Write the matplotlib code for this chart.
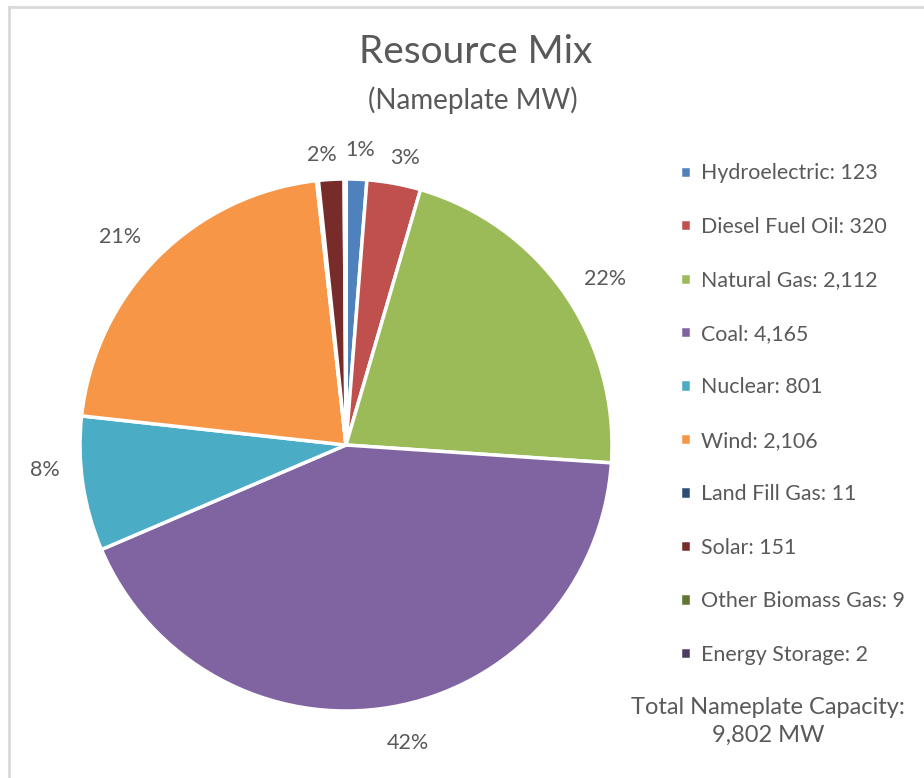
import numpy as np
import matplotlib.pyplot as plt
from matplotlib.lines import Line2D

# Resource mix data (Nameplate MW)
sources = ["Hydroelectric", "Diesel Fuel Oil", "Natural Gas", "Coal", "Nuclear",
           "Wind", "Land Fill Gas", "Solar", "Other Biomass Gas", "Energy Storage"]
capacity = [123, 320, 2112, 4165, 801, 2106, 11, 151, 9, 2]
colors = ["#4F81BD", "#C0504D", "#9BBB59", "#8064A2", "#4BACC6",
          "#F79646", "#2C4D75", "#772C2A", "#5F7530", "#4D3B62"]
total_label = "9,802 MW"

# label placement tweaks (radial distance, angle nudge in degrees clockwise)
label_r = [1.11, 1.10, 1.157, 1.144, 1.135, 1.155, 1.1, 1.094, 1.1, 1.1]
label_nudge = [0.5, 1.2, 2.2, -2.0, 3.7, -2.4, 0, -1.5, 0, 0]

plt.rcParams['font.family'] = ['Lato', 'DejaVu Sans']
text_color = "#595959"

fig = plt.figure(figsize=(9.24, 7.78), dpi=100)
W, H = 924, 778

# pie centred at (346, 445) px with radius 266 px
cx, cy, r = 346, 445, 266
ax = fig.add_axes([(cx - r) / W, (H - cy - r) / H, 2 * r / W, 2 * r / H])


def pct_fmt(p):
    # Excel hides labels on tiny slices
    return f"{p:.0f}%" if p >= 0.5 else ""


wedges, _, autotexts = ax.pie(capacity, colors=colors, startangle=90, counterclock=False,
                              autopct=pct_fmt, pctdistance=1.13,
                              wedgeprops=dict(edgecolor='white', linewidth=2.5))
for w, t, d, nudge in zip(wedges, autotexts, label_r, label_nudge):
    mid = np.deg2rad((w.theta1 + w.theta2) / 2 - nudge)
    t.set_position((d * np.cos(mid), d * np.sin(mid)))
    t.set_color(text_color)
    t.set_fontsize(15.5)
ax.set_xlim(-1, 1)
ax.set_ylim(-1, 1)
ax.set_aspect('equal')
ax.axis('off')

# Title
fig.text(476 / W, 1 - 52 / H, "Resource Mix", ha='center', va='center',
         fontsize=28, color=text_color)
fig.text(473 / W, 1 - 100 / H, "(Nameplate MW)", ha='center', va='center',
         fontsize=20, color=text_color)

# Legend with values
legend_labels = [f"{s}: {v:,}" for s, v in zip(sources, capacity)]
leg = fig.legend(wedges, legend_labels, loc='upper left',
                 bbox_to_anchor=(661 / W, 1 - 144 / H), frameon=False,
                 fontsize=15.4, handlelength=0.5, handleheight=0.5,
                 handletextpad=0.45, labelspacing=1.565, labelcolor=text_color)

fig.text(768 / W, 1 - 708 / H, "Total Nameplate Capacity:", ha='center', va='center',
         fontsize=17, color=text_color)
fig.text(768 / W, 1 - 735 / H, total_label, ha='center', va='center',
         fontsize=17, color=text_color)

# Frame lines (top and left)
fig.add_artist(Line2D([9 / W, 1], [1 - 7 / H, 1 - 7 / H], color='#D9D9D9', linewidth=2))
fig.add_artist(Line2D([9 / W, 9 / W], [0, 1 - 7 / H], color='#D9D9D9', linewidth=2))

plt.savefig("out.png", dpi=100)
